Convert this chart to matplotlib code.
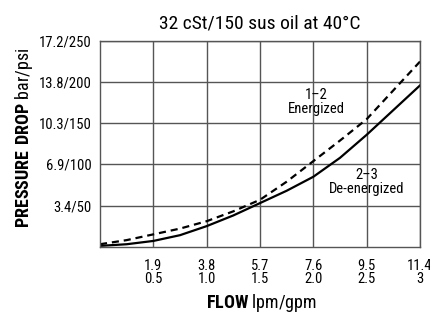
import matplotlib.pyplot as plt

plt.rcParams['font.family'] = ['Roboto Condensed', 'DejaVu Sans']
plt.rcParams['mathtext.fontset'] = 'custom'
plt.rcParams['mathtext.rm'] = 'Roboto Condensed'
plt.rcParams['mathtext.bf'] = 'Roboto Condensed:bold'

# Flow [gpm] and pressure drop [psi]
flow_gpm = [0, 0.25, 0.5, 0.75, 1.0, 1.25, 1.5, 1.75, 2.0, 2.25, 2.5, 2.75, 3.0]
energized_psi = [3, 8, 15, 22, 31, 43, 57, 79, 104, 129, 155, 190, 225]
deenergized_psi = [1, 3, 7, 14, 25, 38, 53, 68, 85, 108, 136, 166, 196]

x_ticks = [0.5, 1.0, 1.5, 2.0, 2.5, 3.0]
x_labels = ["1.9\n0.5", "3.8\n1.0", "5.7\n1.5", "7.6\n2.0", "9.5\n2.5", "11.4\n3"]
y_ticks = [50, 100, 150, 200, 250]
y_labels = ["3.4/50", "6.9/100", "10.3/150", "13.8/200", "17.2/250"]

fig = plt.figure(figsize=(4.3, 3.14), dpi=100)
ax = fig.add_axes([100 / 430, 67.3 / 314, 320 / 430, 205.7 / 314])

ax.plot(flow_gpm, energized_psi, color="black", lw=1.6, ls=(0, (3.2, 2.2)))
ax.plot(flow_gpm, deenergized_psi, color="black", lw=1.6)

ax.set_xlim(0, 3)
ax.set_ylim(0, 250)
ax.set_xticks(x_ticks)
ax.set_xticklabels(x_labels, fontsize=10.5, linespacing=0.85)
ax.set_yticks(y_ticks)
ax.set_yticklabels(y_labels, fontsize=10.5)
ax.tick_params(length=0, pad=6)
ax.tick_params(axis="x", pad=9)
ax.grid(True, color="#555555", lw=1.0)
for s in ax.spines.values():
    s.set_linewidth(1.0)
    s.set_color("#555555")

ax.text(2.03, 176, "1\u20132\nEnergized", ha="center", va="center",
        fontsize=10.5, linespacing=1.0)
ax.text(2.5, 79, "2\u20133\nDe-energized", ha="center", va="center",
        fontsize=10.5, linespacing=1.0)

fig.text(260 / 430, 290 / 314, "32 cSt/150 sus oil at 40\u00b0C", ha="center", va="center",
         fontsize=14)

fig.text(261 / 430, 11 / 314, r"$\mathbf{FLOW}$ lpm/gpm", ha="center", va="center",
         fontsize=13)
fig.text(24 / 430, 176 / 314, r"$\mathbf{PRESSURE\ DROP}$ bar/psi", rotation=90,
         ha="center", va="center", fontsize=13)

fig.savefig("out.png", dpi=100)
